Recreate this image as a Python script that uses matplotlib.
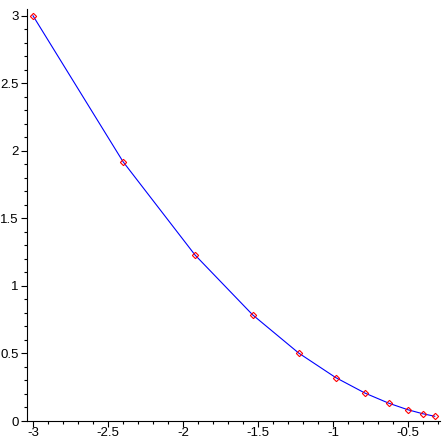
import matplotlib
matplotlib.use('Agg')
import matplotlib.pyplot as plt
from matplotlib.ticker import MultipleLocator

# points
x_vals = [-3.0, -2.4, -1.92, -1.536, -1.229, -0.983, -0.786, -0.629, -0.503, -0.403, -0.322]
y_vals = [3.0, 1.92, 1.229, 0.786, 0.503, 0.322, 0.206, 0.132, 0.084, 0.054, 0.035]

x_ticks = [-3, -2.5, -2, -1.5, -1, -0.5]
x_labels = ['-3', '-2.5', '-2', '-1.5', '-1', '-0.5']
y_ticks = [0, 0.5, 1, 1.5, 2, 2.5, 3]
y_labels = ['0', '0.5', '1', '1.5', '2', '2.5', '3']

plt.rcParams['font.family'] = ['Liberation Sans', 'DejaVu Sans']

fig = plt.figure(figsize=(4.45, 4.45), dpi=100)
ax = fig.add_axes([27/445, 24/445, 413/445, 412/445])

ax.plot(x_vals, y_vals, color='#0000ff', lw=0.8, zorder=2)
ax.plot(x_vals, y_vals, ls='none', marker='D', ms=3.2, mfc='none',
        mec='#ff0000', mew=0.8, zorder=3)

ax.set_xlim(-3.04, -0.287)
ax.set_ylim(0, 3.05)

ax.spines['top'].set_visible(False)
ax.spines['right'].set_visible(False)
for s in ['left', 'bottom']:
    ax.spines[s].set_linewidth(0.8)
    ax.spines[s].set_color('black')

ax.set_xticks(x_ticks)
ax.set_xticklabels(x_labels)
ax.set_yticks(y_ticks)
ax.set_yticklabels(y_labels)
ax.xaxis.set_minor_locator(MultipleLocator(0.1))
ax.yaxis.set_minor_locator(MultipleLocator(0.1))
ax.tick_params(which='major', length=4, width=0.8, labelsize=9.5, direction='out')
ax.tick_params(which='minor', length=2.5, width=0.8, direction='out')
ax.tick_params(axis='x', which='major', pad=0)
ax.tick_params(axis='y', which='major', pad=2)

fig.savefig('out.png', dpi=100)
